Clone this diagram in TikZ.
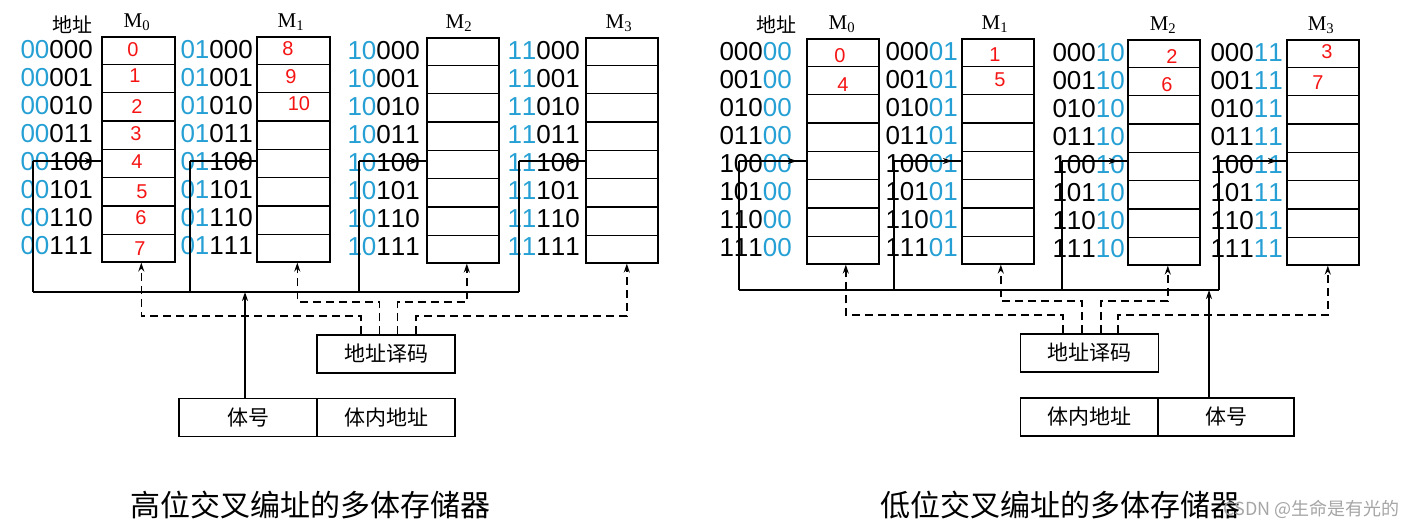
\documentclass[tikz,border=0pt]{standalone}
\usepackage{fontspec}
\setmainfont{Liberation Serif}
\newfontfamily\digitfont[Kerning=Off]{Liberation Sans}
\newfontfamily\cjk{Noto Sans CJK SC}
\usetikzlibrary{arrows.meta,calc}
\definecolor{addrblue}{RGB}{38,160,212}
\definecolor{numred}{RGB}{245,20,20}
\definecolor{wmgray}{RGB}{165,165,165}
\newcommand\bankdiv[1]{\foreach \i in {1,...,7}{\draw[line width=1.3pt] ($(#1.north west)!\i/8!(#1.south west)$) -- ($(#1.north east)!\i/8!(#1.south east)$);}}
\begin{document}
\begin{tikzpicture}[x=1pt,y=-1pt,
  bank/.style={draw, line width=1.6pt, inner sep=0pt, anchor=north west, minimum width=73pt, minimum height=225pt},
  wire/.style={line width=1.5pt},
  dwire/.style={line width=1.5pt, dash pattern=on 8pt off 5pt},
  tip/.style={-{Stealth[length=9pt,width=6pt]}},
  addr/.style={anchor=east, inner sep=0pt, font=\digitfont\fontsize{26}{26}\selectfont},
  mlab/.style={inner sep=0pt, font=\fontsize{21}{21}\selectfont},
  toplab/.style={inner sep=0pt, font=\cjk\fontsize{20}{20}\selectfont},
  num/.style={inner sep=0pt, text=numred, font=\digitfont\fontsize{20}{20}\selectfont},
  field/.style={draw, line width=1.6pt, minimum width=138pt, minimum height=38pt, inner sep=0pt, font=\cjk\fontsize{21}{21}\selectfont},
  title/.style={inner sep=0pt, font=\cjk\fontsize{30}{30}\selectfont},
]
\useasboundingbox (0,0) rectangle (1414,529);

% ================= LEFT: high-order interleaving =================
\node[bank] (L0) at (101,36) {};
\node[bank] (L1) at (256,36) {};
\node[bank, minimum width=72pt] (L2) at (426,37) {};
\node[bank, minimum width=72pt] (L3) at (585,37) {};
\foreach \k in {0,...,3}{\bankdiv{L\k}}

\node[toplab] (Laddr) at (72,25) {地址};
\node[mlab] (Lm0) at (137,22) {M\textsubscript{0}};
\node[mlab] (Lm1) at (291,22) {M\textsubscript{1}};
\node[mlab] (Lm2) at (459,23) {M\textsubscript{2}};
\node[mlab] (Lm3) at (619,23) {M\textsubscript{3}};

\foreach \p/\bx/\tp in {00/93/36, 01/253/36, 10/420/37, 11/580/37}{
  \foreach \s [count=\r from 0] in {000,001,010,011,100,101,110,111}{
    \node[addr] (La\p\s) at (\bx,\tp+14+28*\r) {\textcolor{addrblue}{\p}\s};
  }
}

\foreach \t/\x/\y in {0/133/50, 1/135/76, 2/137/107, 3/136/134, 4/137/162, 5/142/192, 6/141/218, 7/140/249, 8/288/49, 9/291/77, 10/299/104}{
  \node[num] (Ln\t) at (\x,\y) {\t};
}

\coordinate (Lj0) at (33,161);
\coordinate (Lj1) at (190,161);
\coordinate (Lj2) at (359,161);
\coordinate (Lj3) at (519,161);
\coordinate (LbusW) at (33,292);
\coordinate (LbusE) at (519,292);
\draw[wire] (LbusW) -- (LbusE);
\foreach \k in {0,...,3}{
  \draw[wire] (Lj\k) -- (Lj\k |- LbusW);
  \draw[wire] (Lj\k) -- (L\k.west |- Lj\k);
  \draw[wire,tip] (Lj\k) -- ([xshift=-7pt]L\k.west |- Lj\k);
}

\node[field] (Lbody) at (248,417.5) {体号};
\node[field] (Lin) at (386,417.5) {体内地址};
\node[field] (Ldec) at (386,354) {地址译码};
\draw[wire,tip] ([xshift=-3pt]Lbody.north) -- ([xshift=-3pt]Lbody.north |- LbusW);

\coordinate (Ls0) at ($(Ldec.north)+(-25,0)$);
\coordinate (Ls1) at ($(Ldec.north)+(-6.5,0)$);
\coordinate (Ls2) at ($(Ldec.north)+(11.5,0)$);
\coordinate (Ls3) at ($(Ldec.north)+(30,0)$);
\draw[dwire,tip] (Ls0) -- ++(0,-18) -| ([xshift=3pt]L0.south);
\draw[dwire,tip] (Ls1) -- ++(0,-32) -| ([xshift=4pt]L1.south);
\draw[dwire,tip] (Ls2) -- ++(0,-32) -| ([xshift=4pt]L2.south);
\draw[dwire,tip] (Ls3) -- ++(0,-18) -| ([xshift=5pt]L3.south);

\node[title] (Ltitle) at (310,505) {高位交叉编址的多体存储器};

% ================= RIGHT: low-order interleaving =================
\node[bank, minimum width=72pt] (R0) at (806,38) {};
\node[bank, minimum width=72pt] (R1) at (961,38) {};
\node[bank, minimum width=72pt] (R2) at (1127,39) {};
\node[bank, minimum width=72pt] (R3) at (1286,39) {};
\foreach \k in {0,...,3}{\bankdiv{R\k}}

\node[toplab] (Raddr) at (776,25) {地址};
\node[mlab] (Rm0) at (842,24) {M\textsubscript{0}};
\node[mlab] (Rm1) at (995,24) {M\textsubscript{1}};
\node[mlab] (Rm2) at (1163,25) {M\textsubscript{2}};
\node[mlab] (Rm3) at (1321,25) {M\textsubscript{3}};

\foreach \p/\bx/\tp in {00/792/38, 01/958/38, 10/1125/39, 11/1283/39}{
  \foreach \s [count=\r from 0] in {000,001,010,011,100,101,110,111}{
    \node[addr] (Ra\s\p) at (\bx,\tp+14+28*\r) {\s\textcolor{addrblue}{\p}};
  }
}

\foreach \t/\x/\y in {0/840/56, 4/843/85, 1/995/55, 5/1000/80, 2/1172/57, 6/1167/85, 3/1327/52, 7/1318/83}{
  \node[num] (Rn\t) at (\x,\y) {\t};
}

\coordinate (Rj0) at (739,161);
\coordinate (Rj1) at (894,161);
\coordinate (Rj2) at (1062,161);
\coordinate (Rj3) at (1219,161);
\coordinate (RbusW) at (739,290);
\coordinate (RbusE) at (1219,290);
\draw[wire] (RbusW) -- (RbusE);
\foreach \k in {0,...,3}{
  \draw[wire] (Rj\k) -- (Rj\k |- RbusW);
  \draw[wire] (Rj\k) -- (R\k.west |- Rj\k);
  \draw[wire,tip] (Rj\k) -- ([xshift=-9pt]R\k.west |- Rj\k);
}

\node[field] (Rin) at (1089.5,417) {体内地址};
\node[field, minimum width=136pt] (Rbody) at (1226,417) {体号};
\node[field] (Rdec) at (1089.5,353) {地址译码};
\draw[wire,tip] ([xshift=-17pt]Rbody.north) -- ([xshift=-17pt]Rbody.north |- RbusW);

\coordinate (Rs0) at ($(Rdec.north)+(-26.5,0)$);
\coordinate (Rs1) at ($(Rdec.north)+(-7.5,0)$);
\coordinate (Rs2) at ($(Rdec.north)+(11.5,0)$);
\coordinate (Rs3) at ($(Rdec.north)+(28.5,0)$);
\draw[dwire,tip] (Rs0) -- ++(0,-18) -| ([xshift=3pt]R0.south);
\draw[dwire,tip] (Rs1) -- ++(0,-32) -| ([xshift=3pt]R1.south);
\draw[dwire,tip] (Rs2) -- ++(0,-32) -| ([xshift=4pt]R2.south);
\draw[dwire,tip] (Rs3) -- ++(0,-18) -| ([xshift=5pt]R3.south);

\node[title] (Rtitle) at (1060,505) {低位交叉编址的多体存储器};
\node[inner sep=0pt, text=wmgray, font=\cjk\fontsize{18}{18}\selectfont, anchor=east] (wm) at (1400,509) {CSDN @生命是有光的};
\end{tikzpicture}
\end{document}
